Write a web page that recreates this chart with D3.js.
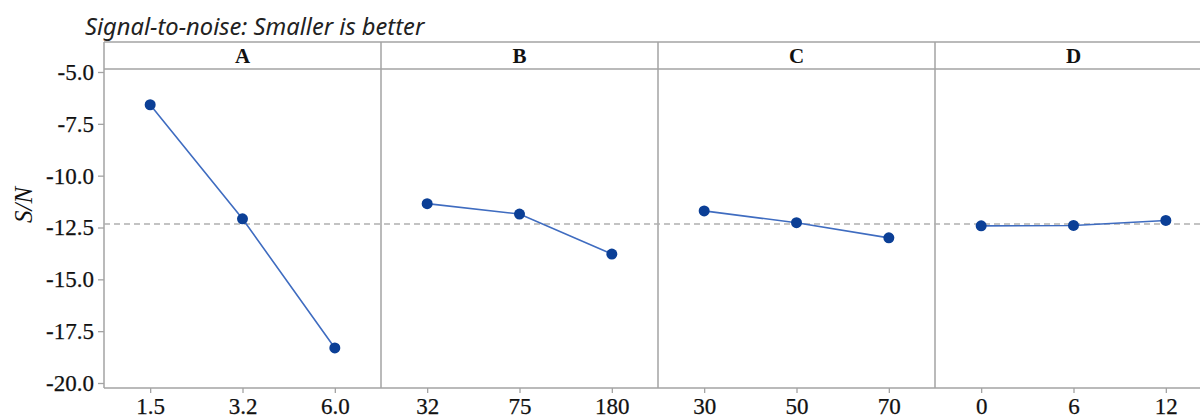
<!DOCTYPE html>
<html>
<head>
<meta charset="utf-8">
<script src="https://cdn.jsdelivr.net/npm/d3@7"></script>
<style>
  html, body { margin: 0; padding: 0; background: #fff; }
  svg { display: block; }
</style>
</head>
<body>
<svg id="chart" width="1200" height="420"></svg>
<script>
// ---- data ----
const chartTitle = "Signal-to-noise: Smaller is better";
const yLabel = "S/N";
const factors = ["A", "B", "C", "D"];
const levelsA = ["1.5", "3.2", "6.0"];
const levelsB = ["32", "75", "180"];
const levelsC = ["30", "50", "70"];
const levelsD = ["0", "6", "12"];
const snA = [-6.58, -12.08, -18.31];
const snB = [-11.35, -11.85, -13.78];
const snC = [-11.70, -12.27, -13.00];
const snD = [-12.42, -12.40, -12.16];
const meanSN = -12.33;
const yTicks = [-5.0, -7.5, -10.0, -12.5, -15.0, -17.5, -20.0];

const levelsAll = [levelsA, levelsB, levelsC, levelsD];
const valuesAll = [snA, snB, snC, snD];

// ---- layout ----
const plotLeft = 104, panelW = 277, plotTop = 42, headerH = 27, plotBottom = 388;
const gray = "#a3a3a3";
const serif = "'Liberation Serif', 'Times New Roman', Times, serif";
const svg = d3.select("#chart");

const y = d3.scaleLinear().domain([-20, -5]).range([383, 72]);

// title
svg.append("text")
  .attr("x", 85).attr("y", 35)
  .style("font-family", "'Noto Sans', 'Open Sans', sans-serif")
  .style("font-style", "italic")
  .style("font-size", "23.7px")
  .attr("fill", "#222")
  .text(chartTitle);

// y label
svg.append("text")
  .attr("transform", `translate(32,205) rotate(-90)`)
  .attr("text-anchor", "middle")
  .style("font-family", serif)
  .style("font-style", "italic")
  .style("font-size", "25px")
  .attr("fill", "#111")
  .text(yLabel);

// y axis
const yAxis = d3.axisLeft(y).tickValues(yTicks).tickFormat(d3.format(".1f")).tickSize(6).tickSizeOuter(0).tickPadding(4);
const gy = svg.append("g").attr("transform", `translate(${plotLeft},0)`).call(yAxis);
gy.select(".domain").remove();
gy.selectAll(".tick line").attr("stroke", gray).attr("stroke-width", 1.3);
gy.selectAll(".tick text")
  .style("font-family", serif)
  .style("font-size", "23px")
  .attr("fill", "#111")
  .attr("stroke", "#111").attr("stroke-width", 0.25)
  .text(d => d3.format(".1f")(d).replace("−", "-"));

// frame lines
const totalRight = plotLeft + panelW * factors.length;
svg.append("line").attr("x1", plotLeft).attr("x2", totalRight).attr("y1", plotTop).attr("y2", plotTop).attr("stroke", gray).attr("stroke-width", 1.5);
svg.append("line").attr("x1", plotLeft).attr("x2", totalRight).attr("y1", plotTop + headerH).attr("y2", plotTop + headerH).attr("stroke", gray).attr("stroke-width", 1.5);
svg.append("line").attr("x1", plotLeft).attr("x2", totalRight).attr("y1", plotBottom).attr("y2", plotBottom).attr("stroke", gray).attr("stroke-width", 1.5);
for (let i = 0; i <= factors.length; i++) {
  svg.append("line")
    .attr("x1", plotLeft + panelW * i).attr("x2", plotLeft + panelW * i)
    .attr("y1", plotTop).attr("y2", plotBottom)
    .attr("stroke", gray).attr("stroke-width", 1.5);
}

// mean reference line
svg.append("line")
  .attr("x1", plotLeft).attr("x2", 1200)
  .attr("y1", y(meanSN)).attr("y2", y(meanSN))
  .attr("stroke", "#b0b0b0").attr("stroke-width", 1.5)
  .attr("stroke-dasharray", "6,4");

// panels
factors.forEach((f, i) => {
  const x0 = plotLeft + panelW * i;
  const x = d3.scalePoint().domain(levelsAll[i]).range([x0, x0 + panelW]).padding(0.5);

  // header
  svg.append("text")
    .attr("x", x0 + panelW / 2).attr("y", plotTop + 21)
    .attr("text-anchor", "middle")
    .style("font-family", serif)
    .style("font-weight", "bold")
    .style("font-size", "21px")
    .attr("fill", "#111")
    .text(f);

  // x axis
  const gx = svg.append("g").attr("transform", `translate(0,${plotBottom})`)
    .call(d3.axisBottom(x).tickSize(5).tickSizeOuter(0).tickPadding(6));
  gx.select(".domain").remove();
  gx.selectAll(".tick line").attr("stroke", gray).attr("stroke-width", 1.3);
  gx.selectAll(".tick text")
    .style("font-family", serif)
    .style("font-size", "23px")
    .attr("dy", "0.66em")
    .attr("fill", "#111")
    .attr("stroke", "#111").attr("stroke-width", 0.25);

  const pts = levelsAll[i].map((l, j) => ({ l, v: valuesAll[i][j] }));
  svg.append("path")
    .datum(pts)
    .attr("fill", "none")
    .attr("stroke", "#3f6cc0")
    .attr("stroke-width", 1.6)
    .attr("d", d3.line().x(d => x(d.l)).y(d => y(d.v)));

  svg.append("g").selectAll("circle").data(pts).join("circle")
    .attr("cx", d => x(d.l)).attr("cy", d => y(d.v))
    .attr("r", 5.5)
    .attr("fill", "#0b3f96");
});
</script>
</body>
</html>
